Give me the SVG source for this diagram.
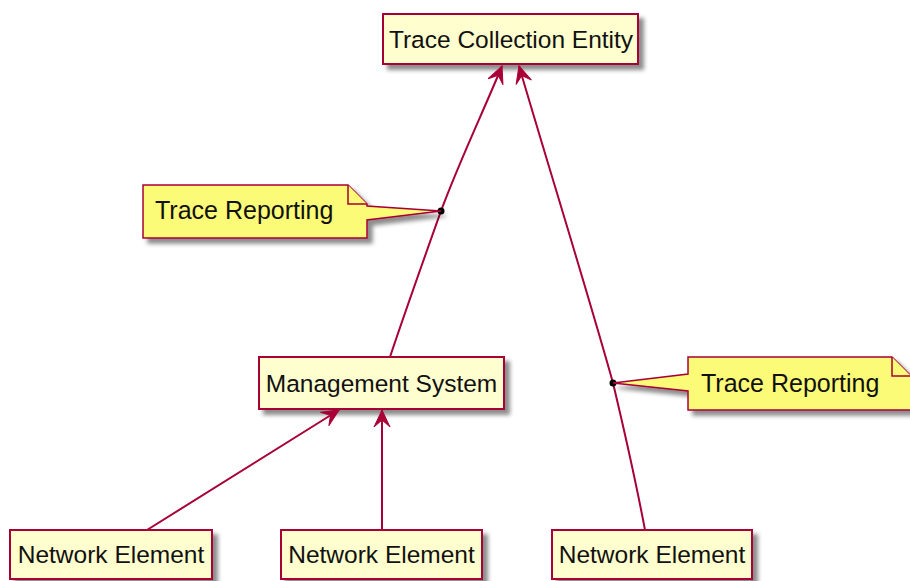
<svg xmlns="http://www.w3.org/2000/svg" width="910" height="581" viewBox="0 0 910 581">
<defs>
<filter id="sh" x="-10%" y="-20%" width="130%" height="160%">
<feDropShadow dx="5" dy="5" stdDeviation="2.2" flood-color="#000" flood-opacity="0.45"/>
</filter>
<marker id="arr" markerUnits="userSpaceOnUse" markerWidth="24" markerHeight="20" viewBox="-18 -10 20 20" refX="0" refY="0" orient="auto">
<path d="M0,0 L-17,-8 L-10,0 L-17,8 Z" fill="#A80036" stroke="#A80036" stroke-width="1" stroke-linejoin="miter"/>
</marker>
</defs>
<style>
.node rect{fill:#FEFECE;stroke:#A80036;stroke-width:2;filter:url(#sh)}
.note path.b{fill:#FBFB77;stroke:#A80036;stroke-width:1.5;filter:url(#sh)}
.note path.f{fill:#FBFB77;stroke:#A80036;stroke-width:1.5}
text{font-family:"Liberation Sans",Arial,sans-serif;font-size:24.5px;fill:#111}
.tr{font-size:25px}
.c{fill:none;stroke:#A80036;stroke-width:2}
</style>
<g id="tce" class="node">
<rect x="383" y="14" width="255" height="50"/>
<text x="511" y="48" text-anchor="middle">Trace Collection Entity</text>
</g>
<g id="ms" class="node">
<rect x="259" y="357" width="245" height="52"/>
<text x="381.5" y="392" text-anchor="middle">Management System</text>
</g>
<g id="ne1" class="node">
<rect x="10" y="530" width="202" height="49"/>
<text x="111" y="563" text-anchor="middle">Network Element</text>
</g>
<g id="ne2" class="node">
<rect x="281" y="530" width="201" height="49"/>
<text x="381.5" y="563" text-anchor="middle">Network Element</text>
</g>
<g id="ne3" class="node">
<rect x="552" y="530" width="200" height="49"/>
<text x="652" y="563" text-anchor="middle">Network Element</text>
</g>
<g id="connectors">
<path class="c" d="M390,357 C405,312 425,256 441,211 C459,162 484,110 502,66" marker-end="url(#arr)"/>
<path class="c" d="M645,530 C638,493 623,425 613,383 C590,300 545,155 519,66" marker-end="url(#arr)"/>
<path class="c" d="M147,530 L339,410" marker-end="url(#arr)"/>
<path class="c" d="M382,530 L382,410" marker-end="url(#arr)"/>
<circle cx="441" cy="211" r="3.5" fill="#000"/>
<circle cx="613" cy="383" r="3.5" fill="#000"/>
</g>
<g id="note1" class="note">
<path class="b" d="M143,185 L348,185 L367,204 L367,206 L441,211 L367,220 L367,238 L143,238 Z"/>
<path class="f" d="M348,185 L348,204 L367,204"/>
<text class="tr" x="155" y="219">Trace Reporting</text>
</g>
<g id="note2" class="note">
<path class="b" d="M688,357 L892,357 L911,376 L911,410 L688,410 L688,391 L613,383 L688,374 Z"/>
<path class="f" d="M892,357 L892,376 L911,376"/>
<text class="tr" x="701" y="392">Trace Reporting</text>
</g>
</svg>
